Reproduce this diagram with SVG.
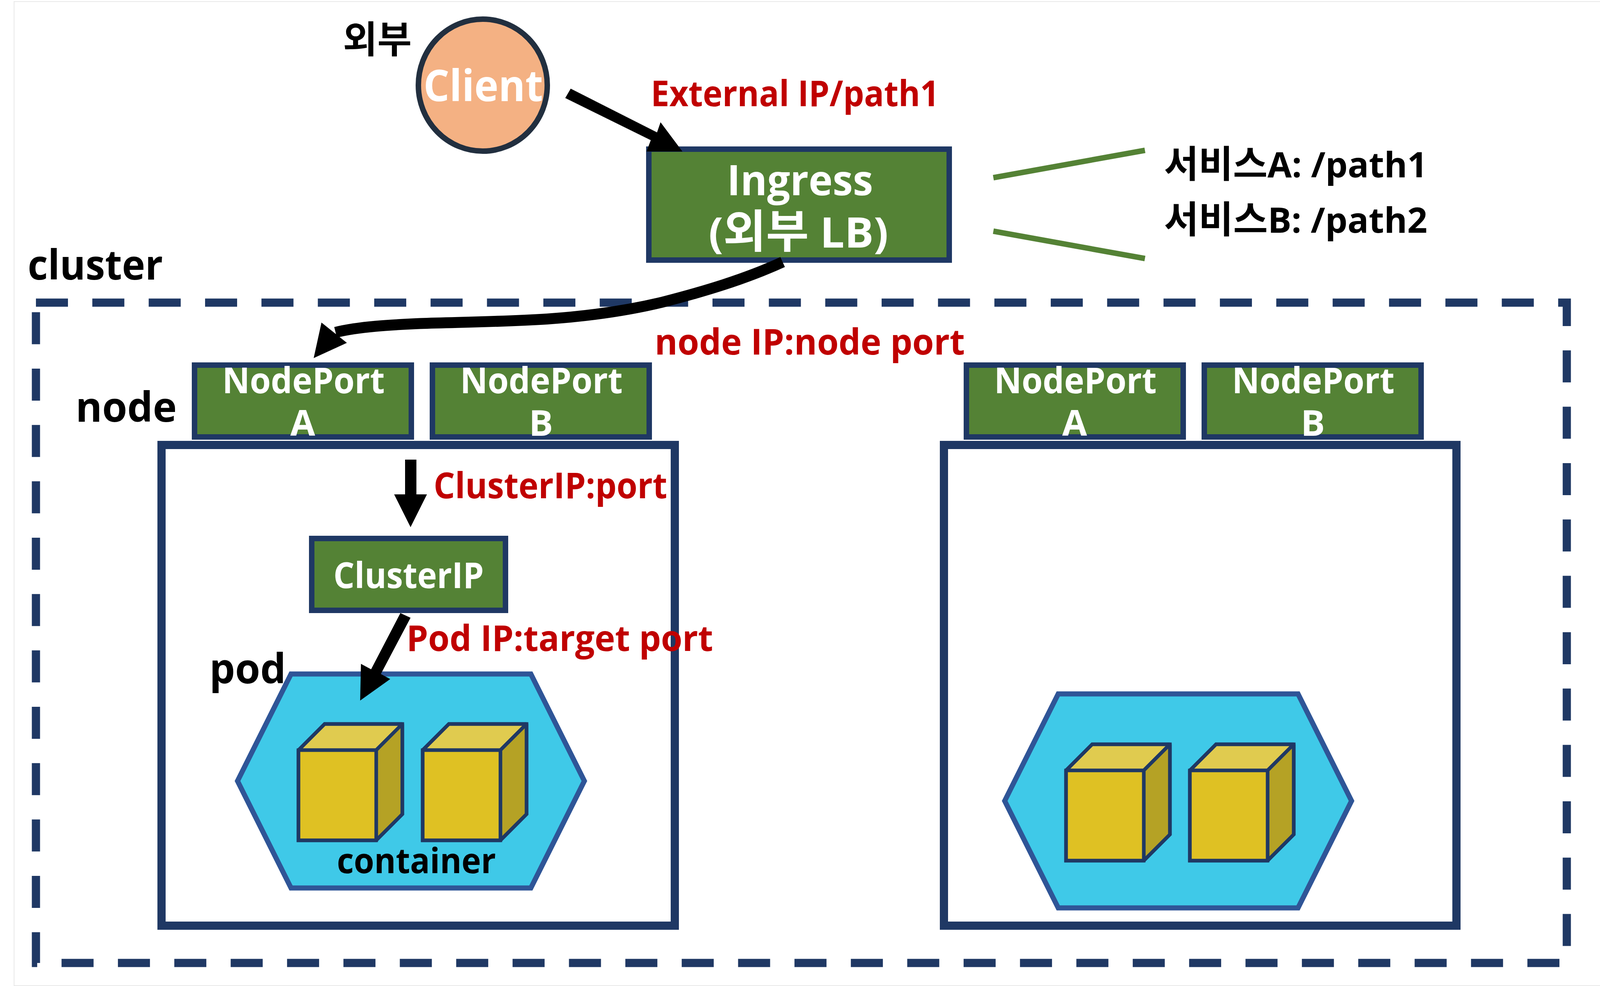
<svg xmlns="http://www.w3.org/2000/svg" width="4120" height="2525" viewBox="0 0 4120 2525">
<style>
text{font-family:"Open Sans","Noto Sans CJK KR",sans-serif;font-weight:700;text-anchor:middle}
.ko{font-family:"Noto Sans CJK KR",sans-serif}
.w{fill:#fff}.k{fill:#000}.r{fill:#C00000}
.g{fill:#548235;stroke:#1F3864;stroke-width:14}
.n{fill:none;stroke:#1F3864;stroke-width:21}
.h{fill:#3FC9E8;stroke:#2F5597;stroke-width:13}
.f{fill:#DFC123;stroke:#1F3864;stroke-width:9}
.t{fill:#E0CB4F;stroke:#1F3864;stroke-width:9;stroke-miterlimit:1.5}
.s{fill:#B5A225;stroke:#1F3864;stroke-width:9;stroke-miterlimit:1.5}
.o{fill:none;stroke:#1F3864;stroke-width:9}
.l{stroke:#548235;stroke-width:14;fill:none}
</style>
<defs>
<g id="cube">
<path class="t" d="M764 1921L831 1854H1030L963 1921Z"/>
<path class="s" d="M963 1921L1030 1854V2085L963 2152Z"/>
<rect class="f" x="764" y="1921" width="199" height="231"/>
<path class="o" d="M764 1921L831 1854H1030V2085L963 2152H764Z"/>
</g>
<path id="hex" class="h" d="M745 1726H1359L1496 2000L1359 2274H745L608 2000Z"/>
</defs>
<rect x="36" y="4" width="4079" height="2520" fill="#fff" stroke="#e8e8e8" stroke-width="2"/>
<path id="cluster" fill="none" stroke="#1F3864" stroke-width="21" stroke-dasharray="82 62.33" d="M92 775H4011V2466H92Z"/>
<g id="node-box-1"><rect class="n" x="413.500" y="1139.500" width="1314" height="1231"/></g>
<g id="node-box-2"><rect class="n" x="2416.500" y="1139.500" width="1312" height="1231"/></g>
<g id="pod-1"><use href="#hex"/></g>
<g id="pod-2"><use href="#hex" x="1964" y="51"/></g>
<g id="containers-1"><use href="#cube"/><use href="#cube" x="318"/></g>
<g id="containers-2"><use href="#cube" x="1965" y="52"/><use href="#cube" x="2282" y="52"/></g>
<g id="client"><ellipse cx="1236" cy="218" rx="165" ry="169" fill="#F4B183" stroke="#222F3F" stroke-width="14"/><text class="w" x="1237" y="259" font-size="112" textLength="306" lengthAdjust="spacingAndGlyphs">Client</text></g>
<g id="ingress"><rect class="g" x="1661" y="382" width="769" height="284"/><text class="w" x="2048" y="500" font-size="108" textLength="374" lengthAdjust="spacingAndGlyphs">Ingress</text><text class="w" x="2044" y="634" font-size="108" textLength="460" lengthAdjust="spacingAndGlyphs">(<tspan class="ko" font-size="116">외부</tspan> LB)</text></g>
<g id="nodeport-a1"><rect class="g" x="498" y="935" width="555" height="184"/><text class="w" x="777" y="1007" font-size="92" textLength="416" lengthAdjust="spacingAndGlyphs">NodePort</text><text class="w" x="775" y="1116" font-size="92">A</text></g>
<g id="nodeport-b1"><rect class="g" x="1107" y="935" width="555" height="184"/><text class="w" x="1386" y="1007" font-size="92" textLength="416" lengthAdjust="spacingAndGlyphs">NodePort</text><text class="w" x="1385" y="1116" font-size="92">B</text></g>
<g id="nodeport-a2"><rect class="g" x="2474" y="935" width="555" height="184"/><text class="w" x="2753" y="1007" font-size="92" textLength="416" lengthAdjust="spacingAndGlyphs">NodePort</text><text class="w" x="2751" y="1116" font-size="92">A</text></g>
<g id="nodeport-b2"><rect class="g" x="3083" y="935" width="555" height="184"/><text class="w" x="3362" y="1007" font-size="92" textLength="416" lengthAdjust="spacingAndGlyphs">NodePort</text><text class="w" x="3361" y="1116" font-size="92">B</text></g>
<g id="clusterip"><rect class="g" x="798" y="1379" width="496" height="184"/><text class="w" x="1046" y="1506" font-size="92" textLength="385" lengthAdjust="spacingAndGlyphs">ClusterIP</text></g>
<g id="connectors">
<path fill="#000" d="M1461 227L1447 251L1666 359L1655 388H1747L1691 313L1682 339Z"/>
<path class="l" d="M2543 455L2931 385M2543 592L2931 662"/>
<path fill="none" stroke="#000" stroke-width="28" d="M2003.500 671C1905 716 1800 747 1695 774C1600 797 1500 810 1400 817C1290 824 1180 825 1075 828.500C1000 832 920 836 859 851"/>
<path fill="#000" d="M823 826L888 878L803 917Z"/>
<path fill="#000" d="M1037 1177H1066V1266H1093L1051 1350L1009 1266H1037Z"/>
<path fill="#000" d="M1025 1570L1051 1582L975 1726L999 1739L922 1794L924 1700L950 1714Z"/>
</g>
<g id="labels">
<text class="k ko" x="966" y="135" font-size="96" textLength="176" lengthAdjust="spacingAndGlyphs">외부</text>
<text class="r" x="2035" y="272" font-size="92" textLength="738" lengthAdjust="spacingAndGlyphs">External IP/path1</text>
<text class="k" x="3317" y="454" font-size="90" textLength="674" lengthAdjust="spacingAndGlyphs"><tspan class="ko" font-size="96">서비스</tspan>A: /path1</text>
<text class="k" x="3317" y="596" font-size="90" textLength="674" lengthAdjust="spacingAndGlyphs"><tspan class="ko" font-size="96">서비스</tspan>B: /path2</text>
<text class="k" x="244" y="716" font-size="106" textLength="346" lengthAdjust="spacingAndGlyphs">cluster</text>
<text class="r" x="2073" y="908" font-size="92" textLength="794" lengthAdjust="spacingAndGlyphs">node IP:node port</text>
<text class="k" x="323" y="1080" font-size="106" textLength="259" lengthAdjust="spacingAndGlyphs">node</text>
<text class="r" x="1409" y="1276" font-size="92" textLength="598" lengthAdjust="spacingAndGlyphs">ClusterIP:port</text>
<text class="r" x="1433" y="1667" font-size="92" textLength="785" lengthAdjust="spacingAndGlyphs">Pod IP:target port</text>
<text class="k" x="634" y="1750" font-size="106" textLength="196" lengthAdjust="spacingAndGlyphs">pod</text>
<text class="k" x="1066" y="2236" font-size="90" textLength="407" lengthAdjust="spacingAndGlyphs">container</text>
</g>
</svg>
